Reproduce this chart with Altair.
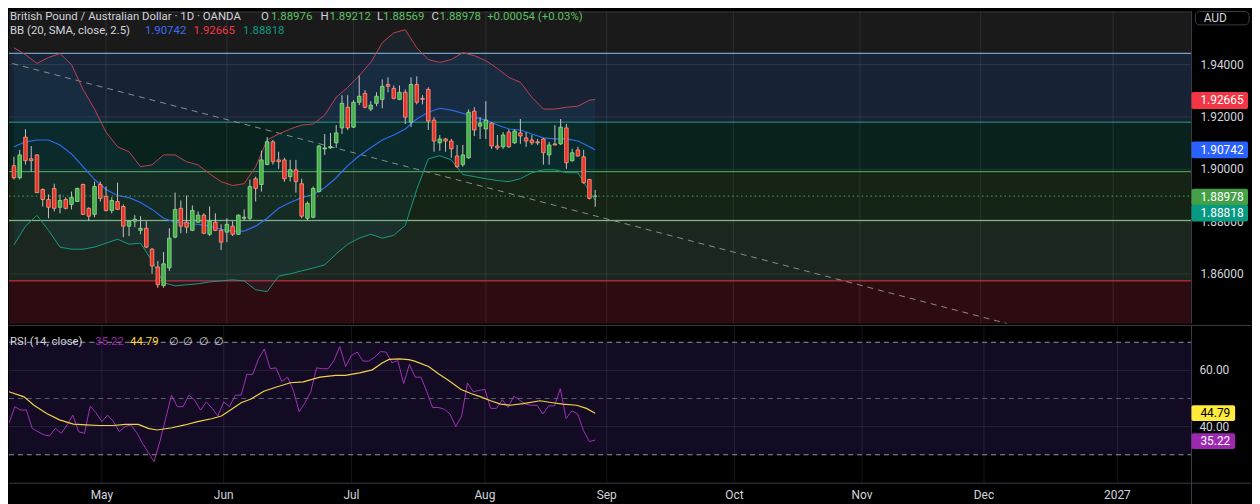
import altair as alt
import pandas as pd

# ----------------------------------------------------------------- data
# GBP/AUD daily bars, trading-day index (0 = 1 May 2026)
bar_index = list(range(-16, 86))
opens = [1.9014, 1.8968, 1.9123, 1.9040, 1.9055, 1.8923, 1.8885, 1.8927, 1.8855, 1.8885,
         1.8866, 1.8877, 1.8942, 1.8851, 1.8828, 1.8942, 1.8896, 1.8843, 1.8877, 1.8858,
         1.8783, 1.8802, 1.8767, 1.8775, 1.8695, 1.8627, 1.8556, 1.8624, 1.8741, 1.8851,
         1.8798, 1.8767, 1.8798, 1.8825, 1.8752, 1.8798, 1.8767, 1.8760, 1.8783, 1.8752,
         1.8813, 1.8813, 1.8964, 1.8942, 1.9018, 1.9105, 1.9036, 1.9036, 1.8972, 1.8998,
         1.8945, 1.8813, 1.8817, 1.8915, 1.9078, 1.9082, 1.9101, 1.9158, 1.9237, 1.9161,
         1.9256, 1.9290, 1.9230, 1.9252, 1.9267, 1.9324, 1.9309, 1.9267, 1.9294, 1.9180,
         1.9324, 1.9271, 1.9305, 1.9188, 1.9101, 1.9116, 1.9108, 1.9051, 1.9018, 1.9044,
         1.9222, 1.9165, 1.9154, 1.9176, 1.9089, 1.9086, 1.9142, 1.9101, 1.9139, 1.9120,
         1.9112, 1.9105, 1.9116, 1.9055, 1.9097, 1.9097, 1.9158, 1.9033, 1.9074, 1.9048,
         1.8961, 1.88976]
highs = [1.9048, 1.9074, 1.9153, 1.9089, 1.9057, 1.8927, 1.8904, 1.8945, 1.8904, 1.8893,
         1.8915, 1.8930, 1.8945, 1.8855, 1.8953, 1.8953, 1.8934, 1.8893, 1.8949, 1.8866,
         1.8805, 1.8825, 1.8821, 1.8802, 1.8699, 1.8650, 1.8684, 1.8775, 1.8911, 1.8881,
         1.8900, 1.8862, 1.8839, 1.8832, 1.8858, 1.8832, 1.8790, 1.8813, 1.8802, 1.8828,
         1.8847, 1.8961, 1.8972, 1.9071, 1.9123, 1.9112, 1.9067, 1.9044, 1.9036, 1.9036,
         1.8964, 1.8877, 1.8934, 1.9093, 1.9135, 1.9139, 1.9169, 1.9283, 1.9283, 1.9264,
         1.9358, 1.9302, 1.9260, 1.9294, 1.9343, 1.9351, 1.9320, 1.9320, 1.9305, 1.9351,
         1.9355, 1.9283, 1.9313, 1.9199, 1.9131, 1.9120, 1.9116, 1.9093, 1.9093, 1.9229,
         1.9237, 1.9199, 1.9260, 1.9180, 1.9131, 1.9142, 1.9153, 1.9153, 1.9192, 1.9142,
         1.9131, 1.9116, 1.9120, 1.9105, 1.9169, 1.9192, 1.9173, 1.9078, 1.9086, 1.9074,
         1.8964, 1.89212]
lows = [1.8961, 1.8961, 1.9018, 1.8991, 1.8909, 1.8858, 1.8813, 1.8839, 1.8832, 1.8847,
        1.8847, 1.8877, 1.8825, 1.8802, 1.8817, 1.8877, 1.8839, 1.8832, 1.8845, 1.8741,
        1.8745, 1.8779, 1.8752, 1.8699, 1.8601, 1.8548, 1.8548, 1.8612, 1.8737, 1.8756,
        1.8756, 1.8764, 1.8798, 1.8752, 1.8745, 1.8764, 1.8692, 1.8722, 1.8745, 1.8749,
        1.8805, 1.8805, 1.8877, 1.8915, 1.9016, 1.9018, 1.9002, 1.8953, 1.8953, 1.8911,
        1.8813, 1.8805, 1.8813, 1.8911, 1.9055, 1.9078, 1.9082, 1.9135, 1.9150, 1.9158,
        1.9245, 1.9233, 1.9222, 1.9241, 1.9233, 1.9294, 1.9267, 1.9264, 1.9173, 1.9161,
        1.9248, 1.9248, 1.9150, 1.9067, 1.9071, 1.9067, 1.9044, 1.9006, 1.9010, 1.9040,
        1.9127, 1.9116, 1.9116, 1.9078, 1.9074, 1.9078, 1.9082, 1.9097, 1.9097, 1.9086,
        1.9093, 1.9093, 1.9018, 1.9018, 1.9091, 1.9093, 1.9002, 1.9029, 1.9048, 1.8945,
        1.8885, 1.88569]
closes = [1.8968, 1.9055, 1.9033, 1.9033, 1.8911, 1.8885, 1.8855, 1.8851, 1.8881, 1.8851,
          1.8893, 1.8927, 1.8828, 1.8821, 1.8934, 1.8889, 1.8843, 1.8881, 1.8847, 1.8783,
          1.8802, 1.8809, 1.8775, 1.8703, 1.8631, 1.8559, 1.8639, 1.8737, 1.8847, 1.8783,
          1.8779, 1.8843, 1.8825, 1.8756, 1.8802, 1.8767, 1.8722, 1.8790, 1.8752, 1.8825,
          1.8817, 1.8934, 1.8927, 1.9036, 1.9105, 1.9029, 1.9029, 1.8964, 1.8998, 1.8953,
          1.8821, 1.8870, 1.8927, 1.9089, 1.9082, 1.9086, 1.9139, 1.9252, 1.9158, 1.9256,
          1.9279, 1.9237, 1.9245, 1.9279, 1.9317, 1.9317, 1.9271, 1.9294, 1.9199, 1.9324,
          1.9256, 1.9267, 1.9184, 1.9108, 1.9116, 1.9108, 1.9078, 1.9010, 1.9055, 1.9218,
          1.9150, 1.9176, 1.9188, 1.9089, 1.9082, 1.9131, 1.9086, 1.9146, 1.9127, 1.9108,
          1.9101, 1.9101, 1.9063, 1.9093, 1.9093, 1.9161, 1.9025, 1.9063, 1.9051, 1.8949,
          1.8889, 1.88978]

# Bollinger Bands (20, SMA, close, 2.5)
bb_bars = list(range(-16, 85, 2)) + [85]
bb_upper = [1.9464, 1.9438, 1.9404, 1.9427, 1.9442, 1.9400, 1.9305, 1.9230, 1.9142, 1.9086,
            1.9067, 1.9010, 1.9017, 1.9055, 1.9055, 1.9029, 1.9017, 1.8983, 1.8953, 1.8938,
            1.8945, 1.9010, 1.9112, 1.9135, 1.9154, 1.9169, 1.9173, 1.9207, 1.9275, 1.9313,
            1.9358, 1.9408, 1.9483, 1.9521, 1.9533, 1.9464, 1.9419, 1.9408, 1.9419, 1.9445,
            1.9434, 1.9415, 1.9385, 1.9351, 1.9332, 1.9275, 1.9230, 1.9230, 1.9237, 1.9241,
            1.9264, 1.92665]
bb_mid = [1.9086, 1.9105, 1.9112, 1.9112, 1.9093, 1.9059, 1.9010, 1.8961, 1.8923, 1.8900,
          1.8892, 1.8873, 1.8847, 1.8813, 1.8798, 1.8794, 1.8790, 1.8783, 1.8771, 1.8764,
          1.8764, 1.8783, 1.8813, 1.8851, 1.8873, 1.8892, 1.8904, 1.8930, 1.8968, 1.9014,
          1.9052, 1.9082, 1.9112, 1.9131, 1.9154, 1.9192, 1.9218, 1.9233, 1.9226, 1.9214,
          1.9199, 1.9188, 1.9169, 1.9154, 1.9150, 1.9135, 1.9120, 1.9116, 1.9116, 1.9108,
          1.9086, 1.90742]
bb_lower = [1.8711, 1.8783, 1.8824, 1.8767, 1.8703, 1.8695, 1.8695, 1.8703, 1.8718, 1.8733,
            1.8714, 1.8718, 1.8650, 1.8567, 1.8555, 1.8559, 1.8563, 1.8570, 1.8574, 1.8578,
            1.8574, 1.8540, 1.8533, 1.8592, 1.8601, 1.8612, 1.8623, 1.8635, 1.8677, 1.8714,
            1.8737, 1.8752, 1.8737, 1.8748, 1.8786, 1.8923, 1.9040, 1.9052, 1.9036, 1.8980,
            1.8972, 1.8964, 1.8957, 1.8953, 1.8964, 1.8987, 1.8998, 1.8998, 1.8987, 1.8987,
            1.8915, 1.88818]

# RSI (14, close) per bar and its moving average
rsi_vals = [41.2, 47.1, 45.9, 45.9, 39.4, 38.2, 37.1, 36.7, 39.4, 37.6,
            40.6, 44.1, 38.2, 37.6, 47.3, 44.9, 41.8, 44.1, 41.8, 38.2,
            40.0, 40.6, 37.9, 34.1, 30.8, 27.6, 34.7, 42.9, 51.2, 47.1,
            47.1, 51.2, 49.4, 45.9, 48.8, 46.5, 43.8, 48.8, 47.1, 51.2,
            51.2, 58.6, 58.6, 64.1, 67.6, 60.6, 60.9, 56.1, 57.6, 52.9,
            45.3, 48.5, 52.4, 60.9, 60.6, 60.6, 63.5, 68.5, 61.4, 65.3,
            66.5, 63.3, 63.3, 64.7, 66.7, 66.5, 62.7, 63.5, 55.3, 62.1,
            57.6, 57.6, 52.4, 46.8, 46.8, 46.2, 44.5, 40.0, 43.8, 55.5,
            52.4, 52.9, 53.2, 46.5, 46.5, 49.6, 46.8, 50.8, 49.4, 48.0,
            47.6, 47.6, 44.5, 47.4, 47.4, 53.5, 42.9, 45.6, 44.5, 38.6,
            34.7, 35.22]
ma_bars = [-16.0, -13.4, -11.7, -9.5, -7.3, -4.9, -2.7, -0.5, 1.9, 4.1,
           6.3, 8.0, 9.5, 12.1, 14.3, 16.5, 18.9, 20.6, 22.3, 24.0,
           25.7, 27.9, 30.1, 32.5, 34.7, 37.6, 40.3, 42.0, 44.4, 46.6,
           48.3, 49.5, 51.2, 52.9, 53.9, 56.3, 58.0, 59.7, 61.9, 63.6,
           65.3, 67.0, 68.7, 70.4, 72.6, 75.5, 77.7, 79.4, 81.8, 83.5, 85.0]
ma_vals = [52.4, 50.6, 47.6, 44.7, 42.4, 40.9, 40.6, 40.4, 40.4, 40.8,
           40.8, 39.4, 38.8, 39.6, 40.6, 41.8, 42.8, 43.8, 46.1, 48.5,
           49.8, 52.6, 54.1, 55.6, 55.9, 57.6, 58.2, 58.2, 59.1, 60.2,
           62.6, 63.9, 64.1, 63.8, 63.3, 61.4, 58.8, 56.5, 53.2, 51.8,
           50.6, 49.2, 48.0, 47.6, 48.2, 49.2, 48.5, 48.0, 47.6, 46.5, 44.79]

# drawings: trend line and horizontal levels / zones
trend_bars = [-16.3, 156.6]
trend_prices = [1.9404, 1.8411]
level_prices = [1.9443, 1.9180, 1.8991, 1.8805, 1.8574]
zone_tops = [1.9443, 1.9180, 1.8991, 1.8805, 1.8574]
zone_bottoms = [1.9180, 1.8991, 1.8805, 1.8574, 1.8411]

month_bars = [0, 21, 43, 66, 87, 109, 131, 152, 175]
month_labels = ["May", "Jun", "Jul", "Aug", "Sep", "Oct", "Nov", "Dec", "2027"]
price_ticks = [1.86, 1.88, 1.90, 1.92, 1.94]
price_grid = [1.86, 1.88, 1.90, 1.92, 1.94, 1.96]
rsi_ticks = [40, 60]
rsi_levels = [70, 50, 30]

last_open, last_high, last_low, last_close = 1.88976, 1.89212, 1.88569, 1.88978
last_change, last_pct = 0.00054, 0.03
bb_last_mid, bb_last_up, bb_last_low = 1.90742, 1.92665, 1.88818
rsi_last, rsi_ma_last = 35.22, 44.79

# ----------------------------------------------------------------- style
FONT = "Roboto"
TXT = "#d1d4dc"
W, H1, H2 = 1192, 315, 159
X_DOM = [-16.0, 187.76]
P_DOM = [1.84114, 1.96045]
R_DOM = [19.89, 75.98]
GRID = "rgba(255,255,255,0.09)"
SEP = "#3a3d45"
zone_fills = ["#172334", "#0a221e", "#152415", "#1b271e", "#2d0c11"]
level_colors = ["#8fc3f2", "#2a9f86", "#5cb85c", "#8fd48f", "#e8323e"]

xs = alt.Scale(domain=X_DOM, nice=False, zero=False)
ps = alt.Scale(domain=P_DOM, nice=False, zero=False)
rs = alt.Scale(domain=R_DOM, nice=False, zero=False)


def xq(f):
    return alt.X(f"{f}:Q", scale=xs, axis=None)


def pq(f):
    return alt.Y(f"{f}:Q", scale=ps, axis=None)


def rq(f):
    return alt.Y(f"{f}:Q", scale=rs, axis=None)


one = pd.DataFrame({"k": [0]})


def txt(s, x, y, color, size=11.5, weight="normal"):
    return alt.Chart(pd.DataFrame({"t": [s]})).mark_text(
        align="left", baseline="middle", font=FONT, fontSize=size,
        color=color, fontWeight=weight
    ).encode(x=alt.value(x), y=alt.value(y), text="t:N")


def tag(value, fill, tcolor, scale, fmt, w, h, off=0):
    d = alt.Chart(pd.DataFrame({"v": [value]}))
    r = d.mark_rect(height=h, color=fill, cornerRadius=2, yOffset=off).encode(
        x=alt.value(W), x2=alt.value(W + w),
        y=alt.Y("v:Q", scale=scale, axis=None))
    t = d.mark_text(align="left", baseline="middle", font=FONT, fontSize=12,
                    color=tcolor, yOffset=off).encode(
        x=alt.value(W + 9), y=alt.Y("v:Q", scale=scale, axis=None),
        text=alt.Text("v:Q", format=fmt))
    return [r, t]


candles = pd.DataFrame({"bar": bar_index, "open": opens, "high": highs,
                        "low": lows, "close": closes})
bb = pd.DataFrame({"bar": bb_bars, "upper": bb_upper, "mid": bb_mid, "lower": bb_lower})
zones = pd.DataFrame({"top": zone_tops, "bot": zone_bottoms, "fill": zone_fills})
levels = pd.DataFrame({"p": level_prices, "c": level_colors})
trend = pd.DataFrame({"tb": trend_bars, "tp": trend_prices})
months = pd.DataFrame({"m": month_bars, "lab": month_labels})

up_cond = "datum.close >= datum.open"

# ----------------------------------------------------------------- price pane
main_layers = [
    alt.Chart(one).mark_rect(color="#1a1a1a").encode(
        x=alt.value(0), x2=alt.value(W), y=alt.value(0), y2=alt.value(H1)),
    alt.Chart(zones).mark_rect().encode(
        x=alt.value(0), x2=alt.value(W),
        y=pq("top"), y2="bot:Q",
        color=alt.Color("fill:N", scale=None)),
    alt.Chart(pd.DataFrame({"p": price_grid})).mark_rule(color=GRID).encode(
        y=pq("p"), x=alt.value(0), x2=alt.value(W)),
    alt.Chart(months).mark_rule(color=GRID).encode(
        x=xq("m"), y=alt.value(0), y2=alt.value(H1)),
    alt.Chart(levels).mark_rule(strokeWidth=1).encode(
        y=pq("p"), x=alt.value(0), x2=alt.value(W),
        color=alt.Color("c:N", scale=None)),
    alt.Chart(bb).mark_area(color="#2196f3", opacity=0.07, clip=True).encode(
        x=xq("bar"), y=pq("upper"), y2="lower:Q"),
    alt.Chart(trend).mark_line(color="#8d8d8d", strokeDash=[6, 5], strokeWidth=1,
                               clip=True).encode(x=xq("tb"), y=pq("tp")),
    alt.Chart(bb).mark_line(color="#c24150", strokeWidth=1, clip=True).encode(
        x=xq("bar"), y=pq("upper")),
    alt.Chart(bb).mark_line(color="#2f6bf0", strokeWidth=1.2, clip=True).encode(
        x=xq("bar"), y=pq("mid")),
    alt.Chart(bb).mark_line(color="#1a9a7e", strokeWidth=1, clip=True).encode(
        x=xq("bar"), y=pq("lower")),
    alt.Chart(candles).mark_rule(color="#c4c4c4", strokeWidth=1, clip=True).encode(
        x=xq("bar"), y=pq("low"), y2="high:Q"),
    alt.Chart(candles).mark_bar(width=3.6, strokeWidth=0.8, clip=True).encode(
        x=xq("bar"), y=pq("open"), y2="close:Q",
        color=alt.condition(up_cond, alt.value("#46b04a"), alt.value("#e8332a")),
        stroke=alt.condition(up_cond, alt.value("#8fe08f"), alt.value("#ff9a80"))),
    alt.Chart(pd.DataFrame({"p": [last_close]})).mark_rule(
        color="#4caf50", strokeDash=[1.5, 3]).encode(
        y=pq("p"), x=alt.value(0), x2=alt.value(W)),
    alt.Chart(one).mark_rule(color=SEP).encode(
        x=alt.value(W), y=alt.value(0), y2=alt.value(H1)),
    # price scale labels (right axis)
    alt.Chart(pd.DataFrame({"p": price_ticks})).mark_text(
        align="left", baseline="middle", font=FONT, fontSize=12, color=TXT).encode(
        x=alt.value(W + 9), y=pq("p"), text=alt.Text("p:Q", format=".5f")),
]
main_layers += tag(bb_last_up, "#f23645", "#ffffff", ps, ".5f", 57, 17, 1)
main_layers += tag(bb_last_mid, "#2962ff", "#ffffff", ps, ".5f", 57, 17)
main_layers += tag(last_close, "#43a047", "#ffffff", ps, ".5f", 57, 17, 1)
main_layers += tag(bb_last_low, "#089981", "#ffffff", ps, ".5f", 57, 17, 13)

GREEN_TXT = "#5fbf63"
L1, L2 = 6, 20
main_layers += [
    txt("British Pound / Australian Dollar · 1D · OANDA", 1, L1, TXT),
    txt("O", 254, L1, TXT), txt(f"{last_open:.5f}", 264, L1, GREEN_TXT),
    txt("H", 314, L1, TXT), txt(f"{last_high:.5f}", 323, L1, GREEN_TXT),
    txt("L", 371, L1, TXT), txt(f"{last_low:.5f}", 377, L1, GREEN_TXT),
    txt("C", 426, L1, TXT), txt(f"{last_close:.5f}", 434, L1, GREEN_TXT),
    txt(f"+{last_change:.5f} (+{last_pct:.2f}%)", 482, L1, GREEN_TXT),
    txt("BB (20, SMA, close, 2.5)", 1, L2, TXT),
    txt(f"{bb_last_mid:.5f}", 137, L2, "#3d6df2"),
    txt(f"{bb_last_up:.5f}", 186, L2, "#f23645"),
    txt(f"{bb_last_low:.5f}", 236, L2, "#089981"),
    alt.Chart(one).mark_rect(fill="#000000", stroke="#3a3d45", strokeWidth=1,
                             cornerRadius=4).encode(
        x=alt.value(W + 4), x2=alt.value(W + 58), y=alt.value(0.5), y2=alt.value(14)),
    alt.Chart(pd.DataFrame({"t": ["AUD"]})).mark_text(
        align="center", baseline="middle", font=FONT, fontSize=12, color=TXT).encode(
        x=alt.value(W + 24), y=alt.value(7), text="t:N"),
]

main = alt.layer(*main_layers).properties(width=W, height=H1)

# ----------------------------------------------------------------- RSI pane
rsi_df = pd.DataFrame({"bar": bar_index, "rsi": rsi_vals})
ma_df = pd.DataFrame({"bar": ma_bars, "ma": ma_vals})
lvl_df = pd.DataFrame({"r": rsi_levels, "c": ["#9598a1", "#5d606b", "#9598a1"]})

rsi_layers = [
    alt.Chart(pd.DataFrame({"a": [rsi_levels[0]], "b": [rsi_levels[2]]})).mark_rect(
        color="#130a24").encode(
        x=alt.value(0), x2=alt.value(W), y=rq("a"), y2="b:Q"),
    alt.Chart(pd.DataFrame({"r": rsi_ticks})).mark_rule(color=GRID).encode(
        y=rq("r"), x=alt.value(0), x2=alt.value(W)),
    alt.Chart(months).mark_rule(color=GRID).encode(
        x=xq("m"), y=alt.value(0), y2=alt.value(H2)),
    alt.Chart(lvl_df).mark_rule(strokeDash=[5, 4], strokeWidth=1).encode(
        y=rq("r"), x=alt.value(0), x2=alt.value(W),
        color=alt.Color("c:N", scale=None)),
    alt.Chart(rsi_df).mark_line(color="#a033b8", strokeWidth=1, clip=True).encode(
        x=xq("bar"), y=rq("rsi")),
    alt.Chart(ma_df).mark_line(color="#f0d34a", strokeWidth=1.2, clip=True).encode(
        x=xq("bar"), y=rq("ma")),
    alt.Chart(one).mark_rule(color=SEP).encode(
        x=alt.value(0), x2=alt.value(W + 60), y=alt.value(0)),
    alt.Chart(one).mark_rule(color=SEP).encode(
        x=alt.value(0), x2=alt.value(W + 60), y=alt.value(H2)),
    alt.Chart(one).mark_rule(color=SEP).encode(
        x=alt.value(W), y=alt.value(0), y2=alt.value(H2 + 22)),
    # RSI scale labels
    alt.Chart(pd.DataFrame({"r": rsi_ticks})).mark_text(
        align="left", baseline="middle", font=FONT, fontSize=12, color=TXT).encode(
        x=alt.value(W + 8), y=rq("r"), text=alt.Text("r:Q", format=".2f")),
    # time axis labels
    alt.Chart(months).mark_text(
        align="center", baseline="middle", font=FONT, fontSize=12, color=TXT).encode(
        x=xq("m"), y=alt.value(H2 + 12), text="lab:N"),
]
rsi_layers += tag(rsi_ma_last, "#ffeb3b", "#000000", rs, ".2f", 44, 16)
rsi_layers += tag(rsi_last, "#9c27b0", "#ffffff", rs, ".2f", 44, 16, 1)
rsi_layers += [
    txt("RSI (14, close)", 1, 17, TXT),
    txt(f"{rsi_last:.2f}", 87, 17, "#9c27b0"),
    txt(f"{rsi_ma_last:.2f}", 122, 17, "#fdd835"),
    txt("∅", 161, 17, TXT), txt("∅", 175, 17, TXT),
    txt("∅", 192, 17, TXT), txt("∅", 207, 17, TXT),
]

rsi = alt.layer(*rsi_layers).properties(width=W, height=H2)

chart = alt.vconcat(main, rsi, spacing=0).properties(
    background="#000000", padding=0
).configure_view(stroke=None)

chart.save("out.html", embed_options={"renderer": "svg", "actions": False})
